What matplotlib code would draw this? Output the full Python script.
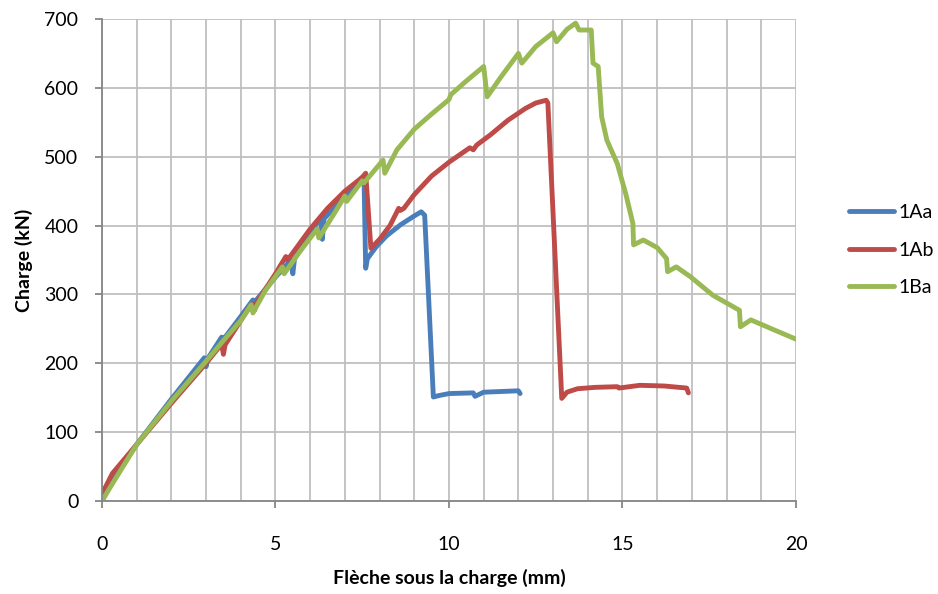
import matplotlib.pyplot as plt

plt.rcParams['font.family'] = ['Lato', 'DejaVu Sans']

# 1Aa
x_1Aa = [0, 0.3, 1.0, 2.0, 2.95, 3.0, 3.05, 3.45, 3.5, 3.55, 4.0, 4.35, 4.4, 4.45,
         5.0, 5.45, 5.5, 5.55, 6.3, 6.35, 6.4, 7.0, 7.5, 7.55, 7.6, 7.65, 7.9, 8.2,
         8.6, 9.0, 9.2, 9.3, 9.55, 9.7, 10.0, 10.7, 10.75, 11.0, 11.5, 12.0, 12.05]
y_1Aa = [0, 30, 82, 148, 208, 195, 207, 238, 222, 238, 268, 292, 277, 292,
         325, 350, 330, 352, 412, 380, 410, 443, 470, 472, 338, 352, 369, 385,
         401, 414, 420, 415, 151, 153, 156, 157, 152, 158, 159, 160, 156]

# 1Ab
x_1Ab = [0, 0.05, 0.3, 1.0, 2.0, 3.0, 3.45, 3.5, 3.55, 4.0, 4.3, 4.35, 5.0, 5.3,
         5.35, 6.0, 6.5, 7.0, 7.5, 7.6, 7.75, 8.0, 8.3, 8.55, 8.6, 8.7, 9.0, 9.5,
         10.0, 10.6, 10.7, 10.8, 11.2, 11.7, 12.2, 12.5, 12.8, 12.85, 13.25, 13.4,
         13.7, 14.2, 14.85, 14.9, 15.5, 16.2, 16.85, 16.9]
y_1Ab = [8, 15, 40, 82, 142, 200, 228, 213, 227, 262, 285, 280, 330, 355,
         350, 395, 425, 450, 470, 476, 367, 380, 400, 425, 422, 425, 445, 472,
         492, 513, 510, 517, 532, 553, 570, 578, 582, 578, 149, 158,
         163, 165, 166, 164, 168, 167, 164, 157]

# 1Ba
x_1Ba = [0, 0.3, 1.0, 2.0, 3.0, 3.5, 4.0, 4.3, 4.35, 4.7, 5.2, 5.25, 5.7, 6.2,
         6.25, 6.7, 7.0, 7.05, 7.5, 7.55, 8.1, 8.15, 8.5, 9.0, 9.5, 10.0, 10.05,
         10.5, 11.0, 11.1, 11.5, 12.0, 12.1, 12.5, 13.0, 13.1, 13.4, 13.65, 13.75,
         14.1, 14.15, 14.3, 14.4, 14.55, 14.85, 15.1, 15.3, 15.32, 15.6, 16.0,
         16.27, 16.3, 16.55, 16.95, 17.6, 18.37, 18.4, 18.7, 19.3, 20.0]
y_1Ba = [0, 25, 82, 145, 203, 233, 262, 285, 273, 305, 340, 330, 362, 395,
         382, 418, 443, 435, 465, 462, 495, 476, 510, 540, 562, 583, 590,
         610, 631, 587, 616, 650, 636, 660, 680, 667, 685, 694, 684,
         684, 636, 631, 558, 524, 490, 445, 403, 372, 379, 368,
         352, 333, 340, 326, 299, 277, 253, 263, 250, 235]

series = [('1Aa', x_1Aa, y_1Aa, '#4A7EBB'),
          ('1Ab', x_1Ab, y_1Ab, '#BE4B48'),
          ('1Ba', x_1Ba, y_1Ba, '#98B954')]

fig = plt.figure(figsize=(9.38, 5.94), dpi=100)
ax = fig.add_axes([0.1087, 0.1566, 0.7399, 0.8114])

for name, xs, ys, col in series:
    ax.plot(xs, ys, color=col, lw=3.5, label=name,
            solid_joinstyle='round', solid_capstyle='round')

ax.set_xlim(0, 20)
ax.set_ylim(0, 700)
ax.set_xticks(range(0, 21, 5))
ax.set_xticks(range(0, 21), minor=True)
ax.set_yticks(range(0, 701, 100))
ax.grid(True, which='both', color='#BFBFBF', lw=1.3)
ax.set_axisbelow(True)
for s in ['top', 'right']:
    ax.spines[s].set_visible(False)
for s in ['left', 'bottom']:
    ax.spines[s].set_color('#868686')
    ax.spines[s].set_linewidth(1.3)
ax.tick_params(which='major', length=5, width=1.3, color='#868686', labelsize=14)
ax.tick_params(axis='x', which='major', pad=20)
ax.tick_params(axis='y', which='major', pad=12)
ax.tick_params(which='minor', length=0)

ax.set_xlabel('Flèche sous la charge (mm)', fontsize=14, fontweight='bold', labelpad=12)
ax.set_ylabel('Charge (kN)', fontsize=14, fontweight='bold', labelpad=8)

fig.legend(loc='center left', bbox_to_anchor=(0.905, 0.579), frameon=False,
           borderpad=0, borderaxespad=0,
           fontsize=14, handlelength=2.3, handletextpad=0.25, labelspacing=1.05)

fig.savefig('out.png', dpi=100)
